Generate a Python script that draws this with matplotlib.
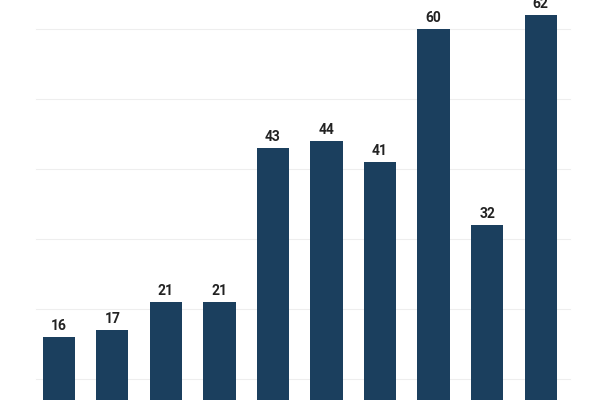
import numpy as np
import matplotlib.pyplot as plt

values = [16, 17, 21, 21, 43, 44, 41, 60, 32, 62]
grid_levels = [10, 20, 30, 40, 50, 60]

fig = plt.figure(figsize=(6, 4), dpi=100)
ax = fig.add_axes([0, 0, 1, 1])

ind = np.arange(len(values))
bars = ax.bar(ind, values, 0.6, color='#1b3f5e', zorder=2)

for g in grid_levels:
    ax.axhline(g, xmin=0.06, xmax=0.95, color='#eeeeee', lw=0.8, zorder=1)

for b, v in zip(bars, values):
    ax.text(b.get_x() + b.get_width() / 2, v + 0.6, str(v), ha='center', va='bottom',
            fontsize=10, fontweight='bold', color='#222222', family='Roboto')

ax.set_xlim(-1.10, 10.11)
ax.set_ylim(7, 64.1)
ax.axis('off')

fig.savefig('out.png', dpi=100)
